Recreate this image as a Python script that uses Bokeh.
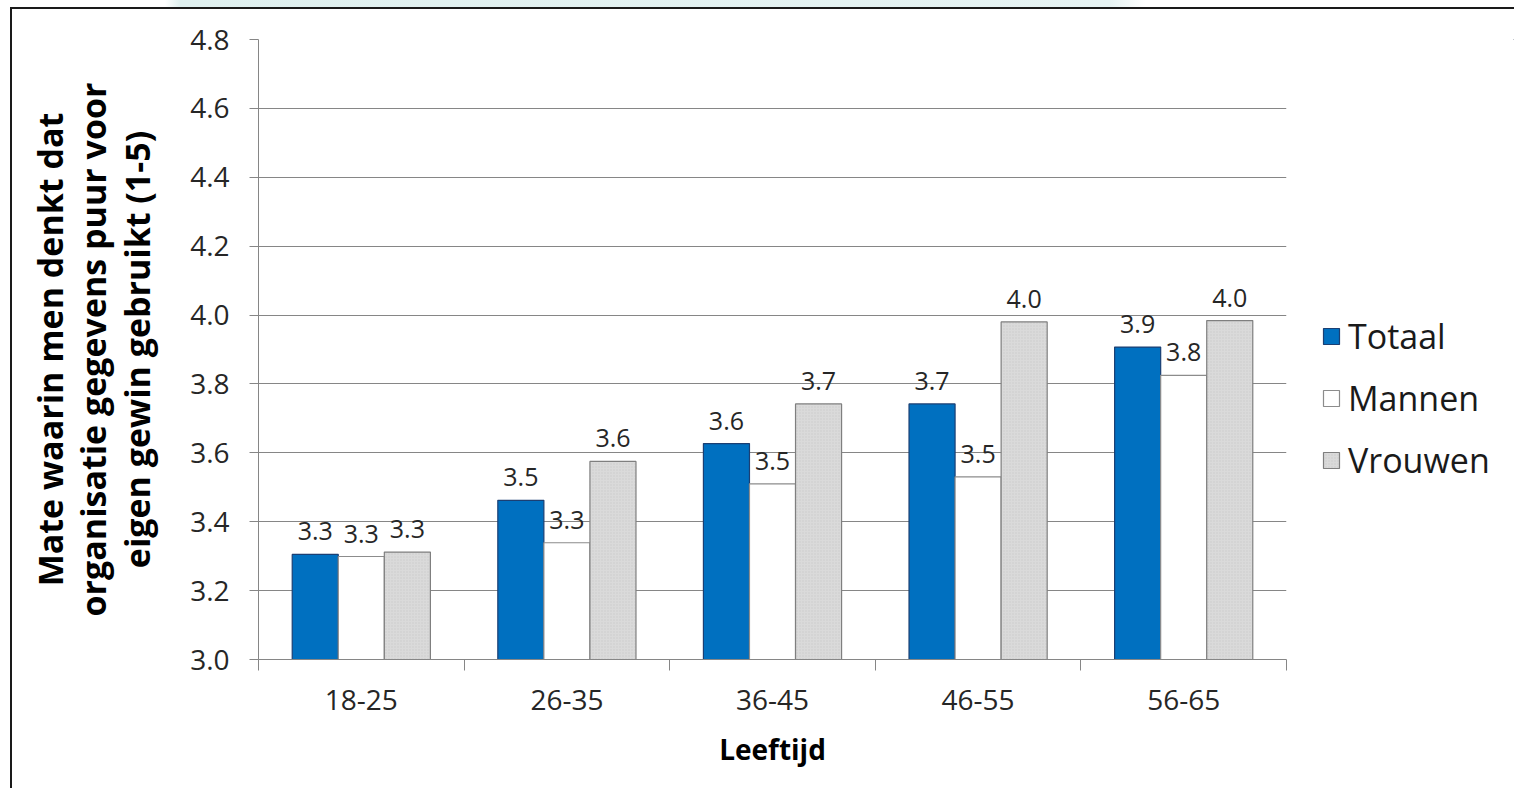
from bokeh.plotting import figure
from bokeh.models import (ColumnDataSource, FixedTicker, Legend, LegendItem,
                          NumeralTickFormatter, Range1d, Div)
from bokeh.layouts import row, column
from bokeh.embed import file_html
from bokeh.resources import INLINE
from bokeh.core.properties import value

# ---- data ----
categories = ["18-25", "26-35", "36-45", "46-55", "56-65"]
series_names = ["Totaal", "Mannen", "Vrouwen"]
totaal = [3.305, 3.462, 3.627, 3.742, 3.907]
mannen = [3.299, 3.339, 3.510, 3.530, 3.825]
vrouwen = [3.312, 3.575, 3.742, 3.980, 3.984]
y_ticks = [3.0, 3.2, 3.4, 3.6, 3.8, 4.0, 4.2, 4.4, 4.6, 4.8]
x_title = "Leeftijd"
y_title = "Mate waarin men denkt dat\norganisatie gegevens puur voor\neigen gewin gebruikt (1-5)"

FONT = "Open Sans"
GRAY = "#868686"
TXT = "#262626"
BORDER = "2px solid #1a1a1a"

p = figure(width=1284, height=781,
           x_range=Range1d(0, len(categories)), y_range=Range1d(y_ticks[0], y_ticks[-1]),
           output_backend="svg", toolbar_location=None,
           min_border_left=246, min_border_top=30, min_border_right=10, min_border_bottom=131)
p.styles = {"border-top": BORDER, "border-left": BORDER}
p.outline_line_color = None
p.background_fill_color = "white"
p.border_fill_color = "white"

bar_w = 0.224
offsets = [-bar_w, 0.0, bar_w]
series_vals = [totaal, mannen, vrouwen]
fills = ["#0070C0", "#FFFFFF", "#DADADA"]
lines = ["#1B3F73", "#8C8C8C", "#7F7F7F"]
hatch = dict(hatch_pattern="dot", hatch_color="#BDBDBD", hatch_scale=3, hatch_weight=1, hatch_alpha=0.6)

# legend panel figure (its x range lies away from the bars, so only the legend shows)
pl = figure(width=220, height=781, x_range=Range1d(-10, -9), y_range=Range1d(0, 1),
            output_backend="svg", toolbar_location=None,
            min_border_left=0, min_border_right=0, min_border_top=0, min_border_bottom=0)
pl.styles = {"border-top": BORDER}
pl.axis.visible = False
pl.grid.visible = False
pl.outline_line_color = None
pl.background_fill_color = "white"
pl.border_fill_color = "white"

legend_items = []
for name, vals, off, fc, lc in zip(series_names, series_vals, offsets, fills, lines):
    xs = [i + 0.5 + off for i in range(len(categories))]
    src = ColumnDataSource(dict(x=xs, top=vals, lab=[f"{v:.1f}" for v in vals]))
    kw = hatch if name == "Vrouwen" else {}
    p.vbar(x="x", top="top", bottom=y_ticks[0], width=bar_w, source=src,
           fill_color=fc, line_color=lc, line_width=1.2, **kw)
    p.text(x="x", y="top", text="lab", source=src, text_align="center", text_baseline="middle",
           y_offset=-23, text_font=value(FONT), text_font_size="25px", text_color=TXT)
    lr = pl.vbar(x="x", top="top", bottom=y_ticks[0], width=bar_w, source=src,
                 fill_color=fc, line_color=lc, line_width=1.2, **kw)
    legend_items.append(LegendItem(label=name, renderers=[lr]))

# grid
p.xgrid.visible = False
p.ygrid.grid_line_color = GRAY
p.ygrid.grid_line_width = 1
p.ygrid.ticker = FixedTicker(ticks=y_ticks)

# y axis
ya = p.yaxis[0]
ya.ticker = FixedTicker(ticks=y_ticks)
ya.formatter = NumeralTickFormatter(format="0.0")
ya.axis_line_color = GRAY
ya.major_tick_line_color = GRAY
ya.major_tick_out = 9
ya.major_tick_in = 0
ya.minor_tick_line_color = None
ya.major_label_standoff = 20
ya.major_label_text_font = FONT
ya.major_label_text_font_size = "28px"
ya.major_label_text_color = TXT
ya.axis_label = y_title
ya.axis_label_text_font = FONT
ya.axis_label_text_font_style = "bold"
ya.axis_label_text_font_size = "34px"
ya.axis_label_text_color = "#000000"
ya.axis_label_standoff = 27
ya.axis_label_text_line_height = 0.95

# x axis
xa = p.xaxis[0]
xa.ticker = FixedTicker(ticks=[i + 0.5 for i in range(len(categories))],
                        minor_ticks=list(range(len(categories) + 1)))
xa.major_label_overrides = {i + 0.5: c for i, c in enumerate(categories)}
xa.axis_line_color = GRAY
xa.major_tick_line_color = None
xa.major_tick_out = 0
xa.major_tick_in = 0
xa.minor_tick_line_color = GRAY
xa.minor_tick_out = 11
xa.minor_tick_in = 0
xa.major_label_standoff = 19
xa.major_label_text_font = FONT
xa.major_label_text_font_size = "28px"
xa.major_label_text_color = TXT
xa.axis_label = x_title
xa.axis_label_text_font = FONT
xa.axis_label_text_font_style = "bold"
xa.axis_label_text_font_size = "28px"
xa.axis_label_text_color = "#000000"
xa.axis_label_standoff = 17

legend = Legend(items=legend_items, location=(27, 176), orientation="vertical",
                border_line_color=None, background_fill_alpha=0,
                glyph_width=20, glyph_height=20, label_standoff=7,
                label_text_font=FONT, label_text_font_size="34px", label_text_color="#1a1a1a",
                spacing=16, padding=0, margin=0)
pl.add_layout(legend)

strip = Div(text="", width=1516, height=7, margin=0,
            styles={"background": "linear-gradient(to right, #ffffff 0px, #ffffff 165px, #dff0ef 180px, "
                                  "#e6f3f3 1110px, #ffffff 1145px, #ffffff 1516px)"})
body = row(p, pl, margin=(0, 0, 0, 10), spacing=0)
layout = column(strip, body, margin=0, spacing=0)

open("out.html", "w").write(file_html(layout, INLINE))
